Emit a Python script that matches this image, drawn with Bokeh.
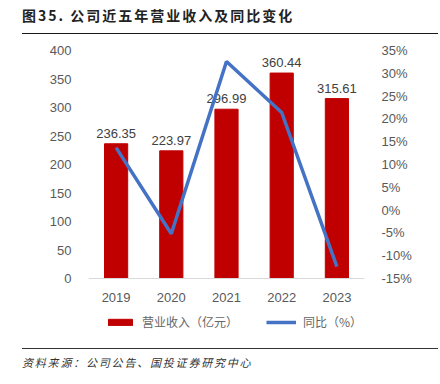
from bokeh.plotting import figure
from bokeh.layouts import column
from bokeh.models import (Range1d, FactorRange, LinearAxis, FixedTicker, PrintfTickFormatter,
                          Legend, LegendItem, Div)
from bokeh.core.properties import value
from bokeh.embed import file_html
from bokeh.resources import INLINE

years = ["2019", "2020", "2021", "2022", "2023"]
revenue = [236.35, 223.97, 296.99, 360.44, 315.61]
yoy = [13.7, -5.2, 32.6, 21.4, -12.4]
left_ticks = [0, 50, 100, 150, 200, 250, 300, 350, 400]
right_ticks = [-15, -10, -5, 0, 5, 10, 15, 20, 25, 30, 35]
title_text = "图35. 公司近五年营业收入及同比变化"
source_text = "资料来源：公司公告、国投证券研究中心"
bar_name = "营业收入（亿元）"
line_name = "同比（%）"

LATIN = "Liberation Sans"
CJK = "Noto Sans CJK SC"

# frame spans 228 px for 0..400 and -15..35; it is extended 62 px lower to hold the legend
EXT = 62
left_lo = -EXT * 400 / 228
right_lo = -15 - EXT * 50 / 228

p = figure(width=440, height=314, x_range=FactorRange(*years), y_range=Range1d(left_lo, 400),
           output_backend="svg", toolbar_location=None,
           min_border_left=88, min_border_right=76, min_border_top=16, min_border_bottom=8)
p.outline_line_color = None
p.xgrid.visible = False
p.ygrid.visible = False
p.background_fill_color = "white"
p.border_fill_color = "white"

p.extra_y_ranges = {"pct": Range1d(right_lo, 35)}

bars = p.vbar(x=years, top=revenue, width=0.42, color="#C00000")
p.text(x=years, y=revenue, text=[f"{v:.2f}" for v in revenue], y_offset=-6,
       text_align="center", text_baseline="bottom", text_font=value(LATIN),
       text_font_size="13px", text_color="#404040")
line = p.line(x=years, y=yoy, y_range_name="pct", line_color="#4472C4", line_width=3.5)

xa = p.xaxis[0]
xa.fixed_location = 0
xa.axis_line_color = "#D9D9D9"
xa.major_tick_line_color = None
xa.minor_tick_line_color = None
xa.major_label_text_font = LATIN
xa.major_label_text_font_size = "13px"
xa.major_label_text_color = "#595959"
xa.major_label_standoff = 8

ya = p.yaxis[0]
ya.ticker = FixedTicker(ticks=left_ticks)
ya.axis_line_color = None
ya.major_tick_line_color = None
ya.minor_tick_line_color = None
ya.major_label_text_font = LATIN
ya.major_label_text_font_size = "13px"
ya.major_label_text_color = "#595959"
ya.major_label_standoff = 11

ra = LinearAxis(y_range_name="pct", ticker=FixedTicker(ticks=right_ticks),
                formatter=PrintfTickFormatter(format="%d%%"))
ra.axis_line_color = None
ra.major_tick_line_color = None
ra.minor_tick_line_color = None
ra.major_label_text_font = LATIN
ra.major_label_text_font_size = "13px"
ra.major_label_text_color = "#595959"
ra.major_label_standoff = 11
p.add_layout(ra, "right")

legend = Legend(items=[LegendItem(label=bar_name, renderers=[bars]),
                       LegendItem(label=line_name, renderers=[line])],
                orientation="horizontal", location=(17, 10),
                glyph_width=30, glyph_height=8, label_height=8, label_standoff=7,
                spacing=28, padding=0, margin=0,
                border_line_color=None, background_fill_alpha=0,
                label_text_font=CJK, label_text_font_size="12px", label_text_color="#666666")
p.add_layout(legend, "center")

title = Div(text=title_text, width=416, height=34, margin=(0, 0, 0, 22),
            styles={"font-family": CJK, "font-size": "14px", "font-weight": "bold",
                    "letter-spacing": "2px", "color": "#222222", "line-height": "16px",
                    "padding-top": "7px", "box-sizing": "border-box",
                    "border-bottom": "1.5px solid #1A1A1A"})
source = Div(text=source_text, width=416, height=36, margin=(0, 0, 0, 22),
             styles={"font-family": CJK, "font-size": "11px", "font-style": "italic",
                     "letter-spacing": "1.8px", "color": "#333333", "line-height": "16px",
                     "padding-top": "5px", "box-sizing": "border-box",
                     "border-top": "1.5px solid #333333"})

layout = column(title, p, source, spacing=0)
open("out.html", "w").write(file_html(layout, INLINE))
